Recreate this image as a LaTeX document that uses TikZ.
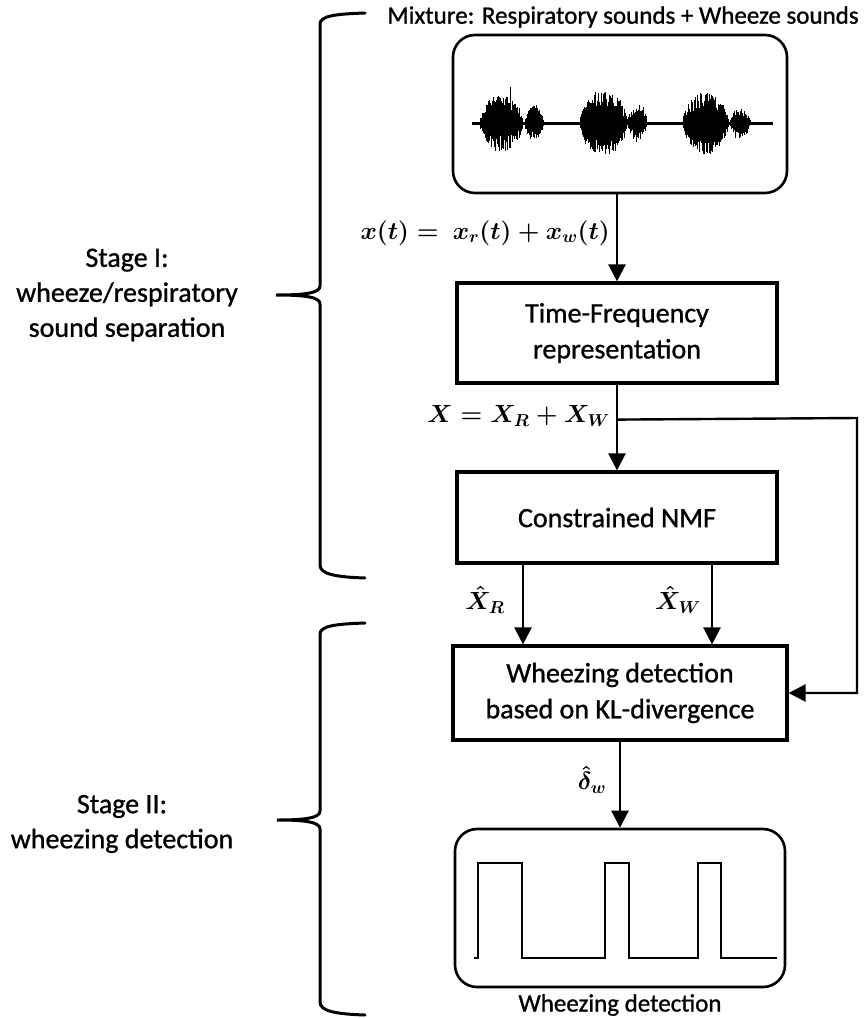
\documentclass[tikz,border=0pt]{standalone}
\usepackage[no-math]{fontspec}
\setmainfont{Carlito}
\newfontfamily\semib[FakeBold=1.0]{Carlito}
\usepackage{amsmath}
\usetikzlibrary{arrows.meta,calc}
\begin{document}
\begin{tikzpicture}[x=1pt,y=-1pt,
  txt/.style={font=\semib\fontsize{28}{35}\selectfont, align=center, inner sep=0pt},
  blk/.style={draw, line width=3.2pt, font=\semib\fontsize{28}{36}\selectfont, align=center, minimum width=320pt, minimum height=100pt, inner sep=0pt},
  rbox/.style={draw, line width=2.6pt, rounded corners=22pt, inner sep=0pt},
  arr/.style={line width=2.4pt, -{Triangle[width=17pt,length=17pt]}},
  brace/.style={line width=3pt, line cap=round},
  mth/.style={font=\fontsize{27}{30}\selectfont\boldmath, inner sep=0pt}]
\useasboundingbox (0,0) rectangle (864,1018);

% title and boxes
\node[txt, font=\semib\fontsize{25}{30}\selectfont] (title) at (623,17) {Mixture: Respiratory sounds + Wheeze sounds};
\node[rbox, minimum width=334pt, minimum height=158pt] (wave) at (620,114) {};
\node[blk] (tf) at (617,333) {Time-Frequency\\representation};
\node[blk, minimum height=91pt] (nmf) at (617,517.5) {Constrained NMF};
\node[blk, minimum width=334pt, minimum height=94pt] (det) at (620,693) {Wheezing detection\\based on KL-divergence};
\node[rbox, minimum width=330pt, minimum height=158pt] (out) at (620,908) {};
\node[txt, font=\semib\fontsize{25}{30}\selectfont] (cap) at (620,1005) {Wheezing detection};

% waveform
\pgfmathsetseed{11}
\draw[line width=3pt] (472,123) -- (773,123);
\foreach \s/\e/\A in {480/523/58, 525/543/36, 580/627/66, 628/647/36, 683/728/64, 730/750/30}{
  \pgfmathtruncatemacro{\nn}{(\e-\s)/0.6}
  \foreach \i in {0,...,\nn}{
    \pgfmathsetmacro{\xx}{\s+\i*0.6}
    \pgfmathsetmacro{\en}{\A*sqrt(sin(180*(\i+0.5)/(\nn+1)))}
    \pgfmathsetmacro{\up}{\en*(0.22+0.28*rnd+0.5*rnd*rnd*rnd*rnd*rnd*rnd)}
    \pgfmathsetmacro{\dn}{\en*(0.22+0.28*rnd+0.5*rnd*rnd*rnd*rnd*rnd*rnd)}
    \draw[line width=0.6pt] (\xx,123-\up) -- (\xx,123+\dn);
  }
}

% square wave
\draw[line width=1.4pt] (474,958) -- (478,958) -- (478,863) -- (522,863) -- (522,958) -- (605,958) -- (605,863) -- (629,863) -- (629,958) -- (698,958) -- (698,863) -- (721,863) -- (721,958) -- (777,958);

% connectors
\coordinate (xr) at (523,0);
\coordinate (xw) at (712,0);
\coordinate (br) at ($(tf.south)+(0,35)$);
\coordinate (rc) at (857,418);
\draw[arr] (tf.north |- wave.south) -- (tf.north);
\draw[arr] (tf.south) -- (nmf.north);
\draw[arr] (br) -- (rc) -- (rc |- det.east) -- (det.east);
\draw[arr] (nmf.south -| xr) -- (det.north -| xr);
\draw[arr] (nmf.south -| xw) -- (det.north -| xw);
\draw[arr] (det.south) -- (out.north);

% labels
\node[mth, anchor=east] (xt) at (610,233) {$x(t) =\ x_r(t) + x_w(t)$};
\node[mth, font=\fontsize{25}{30}\selectfont\boldmath, anchor=east] (XX) at (610,416) {$X = X_R + X_W$};
\node[mth] (XR) at (485,600) {$\hat{X}_R$};
\node[mth] (XW) at (678,600) {$\hat{X}_W$};
\node[mth] (dw) at (592,780) {$\hat{\delta}_w$};

% stage labels
\node[txt] (s1) at (127,295) {Stage I:\\wheeze/respiratory\\sound separation};
\node[txt] (s2) at (122,824) {Stage II:\\wheezing detection};

% braces
\draw[brace] (365,13) .. controls (335,14) and (320,16) .. (320,24) -- (320,286) .. controls (320,293) and (305,295) .. (276,295) .. controls (305,295) and (320,297) .. (320,304) -- (320,565) .. controls (320,574) and (335,577) .. (365,578);
\draw[brace] (365,623) .. controls (335,624) and (320,626) .. (320,634) -- (320,811) .. controls (320,818) and (305,820) .. (277,820) .. controls (305,820) and (320,822) .. (320,829) -- (320,1002) .. controls (320,1011) and (335,1014) .. (365,1015);
\end{tikzpicture}
\end{document}
